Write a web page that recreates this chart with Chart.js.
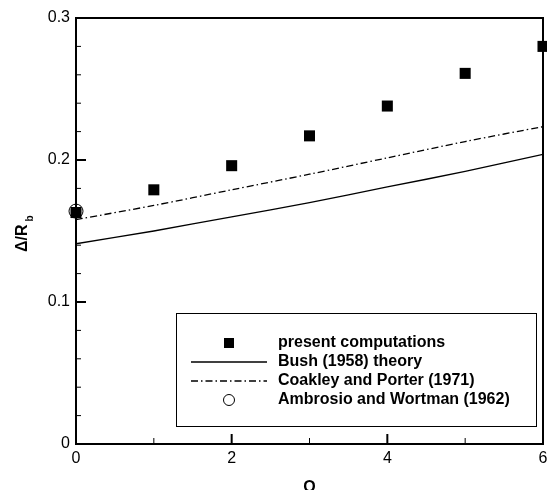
<!DOCTYPE html>
<html>
<head>
<meta charset="utf-8">
<script src="https://cdn.jsdelivr.net/npm/chart.js@4.4.1/dist/chart.umd.min.js"></script>
<style>
  html, body { margin: 0; padding: 0; background: #fff; }
  #wrap { width: 547px; height: 490px; }
</style>
</head>
<body>
<div id="wrap"><canvas id="thickness" width="547" height="490"></canvas></div>
<script>
const FONT = '"Liberation Sans", Arial, Helvetica, sans-serif';

// Q values and film thickness results
const qValues = [0, 1, 2, 3, 4, 5, 6];
const presentComputations = [0.163, 0.179, 0.196, 0.217, 0.238, 0.261, 0.280];
const bushTheory = [0.141, 0.150, 0.160, 0.170, 0.181, 0.192, 0.204];
const coakleyPorter = [0.158, 0.168, 0.179, 0.190, 0.2015, 0.213, 0.2235];
const ambrosioQ = [0];
const ambrosioWortman = [0.164];

const legendLabels = [
    'present computations',
    'Bush (1958) theory',
    'Coakley and Porter (1971)',
    'Ambrosio and Wortman (1962)'
];

const toPoints = (xs, ys) => xs.map((x, i) => ({ x: x, y: ys[i] }));

// frame round the plot and inward ticks on the left and bottom axes
const framePlugin = {
    id: 'frame',
    beforeDatasetsDraw(chart) {
        const { ctx, chartArea: a, scales } = chart;
        ctx.save();
        ctx.strokeStyle = '#000';
        ctx.lineWidth = 2;
        ctx.strokeRect(a.left, a.top, a.right - a.left, a.bottom - a.top);

        for (let i = 1; i < 15; i++) {
            const v = i * 0.02;
            const y = scales.y.getPixelForValue(v);
            const major = i % 5 === 0;
            ctx.lineWidth = major ? 2 : 1;
            ctx.beginPath();
            ctx.moveTo(a.left, y);
            ctx.lineTo(a.left + (major ? 10 : 5), y);
            ctx.stroke();
        }
        for (let i = 1; i < 6; i++) {
            const x = scales.x.getPixelForValue(i);
            const major = i % 2 === 0;
            ctx.lineWidth = major ? 2 : 1;
            ctx.beginPath();
            ctx.moveTo(x, a.bottom);
            ctx.lineTo(x, a.bottom - (major ? 10 : 6));
            ctx.stroke();
        }

        // axis titles
        ctx.fillStyle = '#000';
        ctx.textBaseline = 'alphabetic';
        ctx.textAlign = 'center';
        ctx.font = 'bold 16px ' + FONT;
        ctx.fillText('Q', (a.left + a.right) / 2, 492);

        ctx.translate(27, 252);
        ctx.rotate(-Math.PI / 2);
        ctx.textAlign = 'left';
        ctx.fillText('\u0394/R', 0, 0);
        const w = ctx.measureText('\u0394/R').width;
        ctx.font = 'bold 10px ' + FONT;
        ctx.fillText('b', w + 3, 6);
        ctx.restore();
    }
};

// boxed legend inside the lower right of the plot
const legendBox = {
    id: 'legendBox',
    afterDatasetsDraw(chart) {
        const { ctx } = chart;
        const left = 176, top = 313, right = 536, bottom = 426;
        const rows = [343, 362, 381, 400];
        const symX = 229, textX = 278;
        ctx.save();
        ctx.fillStyle = '#fff';
        ctx.fillRect(left, top, right - left, bottom - top);
        ctx.strokeStyle = '#000';
        ctx.lineWidth = 1;
        ctx.strokeRect(left + 0.5, top + 0.5, right - left, bottom - top);

        ctx.fillStyle = '#000';
        ctx.fillRect(symX - 5, rows[0] - 5, 10, 10);

        ctx.lineWidth = 1.3;
        ctx.beginPath();
        ctx.moveTo(191, rows[1]);
        ctx.lineTo(267, rows[1]);
        ctx.stroke();

        ctx.setLineDash([7, 3, 1.5, 3]);
        ctx.beginPath();
        ctx.moveTo(191, rows[2]);
        ctx.lineTo(267, rows[2]);
        ctx.stroke();
        ctx.setLineDash([]);

        ctx.lineWidth = 1;
        ctx.beginPath();
        ctx.arc(symX, rows[3], 5.5, 0, Math.PI * 2);
        ctx.stroke();

        ctx.font = 'bold 16px ' + FONT;
        ctx.textBaseline = 'middle';
        ctx.textAlign = 'left';
        legendLabels.forEach((t, i) => ctx.fillText(t, textX, rows[i]));
        ctx.restore();
    }
};

new Chart(document.getElementById('thickness'), {
    type: 'scatter',
    data: {
        datasets: [
            {
                label: legendLabels[3],
                data: toPoints(ambrosioQ, ambrosioWortman),
                pointStyle: 'circle',
                pointRadius: 7,
                borderColor: '#000',
                borderWidth: 1,
                backgroundColor: 'rgba(0,0,0,0)',
                clip: false
            },
            {
                label: legendLabels[0],
                data: toPoints(qValues, presentComputations),
                pointStyle: 'rect',
                pointRadius: 7.8,
                borderWidth: 0,
                backgroundColor: '#000',
                clip: false
            },
            {
                type: 'line',
                label: legendLabels[1],
                data: toPoints(qValues, bushTheory),
                borderColor: '#000',
                borderWidth: 1.3,
                pointRadius: 0,
                tension: 0.3,
                fill: false
            },
            {
                type: 'line',
                label: legendLabels[2],
                data: toPoints(qValues, coakleyPorter),
                borderColor: '#000',
                borderWidth: 1.3,
                borderDash: [7, 3, 1.5, 3],
                pointRadius: 0,
                tension: 0.3,
                fill: false
            }
        ]
    },
    options: {
        responsive: false,
        animation: false,
        devicePixelRatio: 1,
        layout: {
            autoPadding: false,
            padding: { top: 18, right: 4, left: 0, bottom: 0 }
        },
        plugins: {
            legend: { display: false },
            tooltip: { enabled: false }
        },
        scales: {
            x: {
                type: 'linear',
                min: 0,
                max: 6,
                grid: { display: false, drawTicks: false, tickLength: 0 },
                border: { display: false },
                ticks: {
                    stepSize: 2,
                    color: '#000',
                    padding: 5,
                    maxRotation: 0,
                    font: { family: FONT, size: 16 }
                },
                afterFit(scale) {
                    scale.height = 46;
                    scale.paddingRight = 0;
                    scale.paddingLeft = 0;
                }
            },
            y: {
                type: 'linear',
                min: 0,
                max: 0.3,
                grid: { display: false, drawTicks: false, tickLength: 0 },
                border: { display: false },
                ticks: {
                    stepSize: 0.1,
                    color: '#000',
                    padding: 6,
                    font: { family: FONT, size: 16 },
                    callback: v => v === 0 ? '0' : v.toFixed(1)
                },
                afterFit(scale) {
                    scale.width = 76;
                    scale.paddingTop = 0;
                    scale.paddingBottom = 0;
                }
            }
        }
    },
    plugins: [framePlugin, legendBox]
});
</script>
</body>
</html>
